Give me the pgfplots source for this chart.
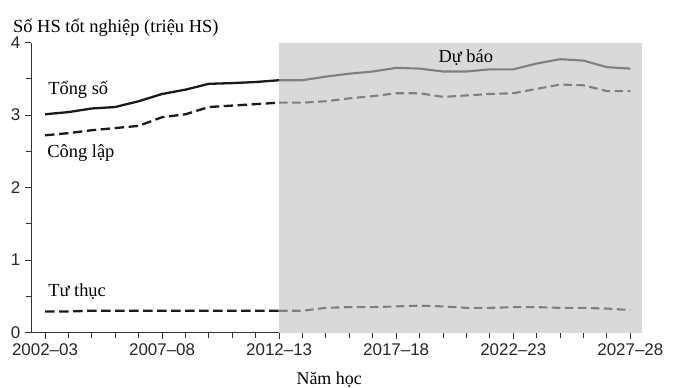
\documentclass[border=0pt]{standalone}
\usepackage{fontspec}
\setmainfont{Liberation Serif}
\newfontfamily\tickfont[Ligatures=TeX]{Liberation Sans}
\usepackage{pgfplots}
\pgfplotsset{compat=1.18}
\definecolor{shade}{HTML}{D9D9D9}
\definecolor{fccol}{HTML}{7F7F7F}
\definecolor{histcol}{HTML}{1A1A1A}
\begin{document}
\begin{tikzpicture}
\begin{axis}[name=ax,
  scale only axis, width=611bp, height=290bp,
  xmin=-0.6, xmax=25.5, ymin=0, ymax=4,
  axis x line=bottom, axis y line=left,
  axis line style={-, line width=1bp, draw=black!80},
  tick align=outside,
  tick style={line width=1bp, draw=black!80},
  major tick length=6bp, minor tick length=5bp,
  xtick={0,5,10,15,20,25},
  xticklabels={2002–03,2007–08,2012–13,2017–18,2022–23,2027–28},
  minor xtick={0,...,25},
  ytick={0,1,2,3,4}, minor ytick={0.5,1.5,2.5,3.5},
  /pgf/number format/assume math mode=true,
  ticklabel style={font=\tickfont\fontsize{17}{18}\selectfont, text=black!85, inner sep=1bp},
  xticklabel style={yshift=-3.5bp},
  yticklabel style={xshift=-3.5bp},
  clip=false,
]
\addplot[fill=shade, draw=none] coordinates {(10,4) (25.5,4)} \closedcycle;
% historic
\addplot[color=histcol, line width=2.3bp] coordinates {
(0,3.01)(1,3.04)(2,3.09)(3,3.11)(4,3.19)(5,3.29)(6,3.35)(7,3.43)(8,3.44)(9,3.455)(10,3.48)};
\addplot[color=histcol, line width=2.3bp, dash pattern=on 9.5bp off 4.5bp] coordinates {
(0,2.72)(1,2.75)(2,2.79)(3,2.82)(4,2.85)(5,2.97)(6,3.01)(7,3.11)(8,3.13)(9,3.15)(10,3.17)};
\addplot[color=histcol, line width=2.3bp, dash pattern=on 9.5bp off 4.5bp] coordinates {
(0,0.29)(1,0.29)(2,0.30)(3,0.30)(4,0.30)(5,0.30)(6,0.30)(7,0.30)(8,0.30)(9,0.30)(10,0.30)};
% forecast
\addplot[color=fccol, line width=2.1bp] coordinates {
(10,3.48)(11,3.48)(12,3.53)(13,3.57)(14,3.60)(15,3.65)(16,3.64)(17,3.60)(18,3.60)(19,3.63)(20,3.63)(21,3.71)(22,3.77)(23,3.75)(24,3.66)(25,3.64)};
\addplot[color=fccol, line width=2.1bp, dash pattern=on 8.5bp off 4.5bp] coordinates {
(10,3.17)(11,3.17)(12,3.19)(13,3.23)(14,3.26)(15,3.30)(16,3.30)(17,3.25)(18,3.27)(19,3.29)(20,3.30)(21,3.36)(22,3.42)(23,3.41)(24,3.33)(25,3.33)};
\addplot[color=fccol, line width=2.1bp, dash pattern=on 8.5bp off 4.5bp] coordinates {
(10,0.30)(11,0.30)(12,0.34)(13,0.35)(14,0.35)(15,0.36)(16,0.37)(17,0.36)(18,0.34)(19,0.34)(20,0.35)(21,0.35)(22,0.34)(23,0.34)(24,0.33)(25,0.31)};
\node[anchor=base west, font=\fontsize{18.5}{20}\selectfont, inner sep=0pt] at (axis cs:0.13,3.28) {Tổng số};
\node[anchor=base west, font=\fontsize{18.5}{20}\selectfont, inner sep=0pt] at (axis cs:0.09,2.41) {Công lập};
\node[anchor=base west, font=\fontsize{18.5}{20}\selectfont, inner sep=0pt] at (axis cs:0.13,0.49) {Tư thục};
\node[anchor=base west, font=\fontsize{18.5}{20}\selectfont, inner sep=0pt] at (axis cs:16.8,3.73) {Dự báo};
\node[anchor=base west, font=\fontsize{18.5}{20}\selectfont, inner sep=0pt] at (rel axis cs:-0.0295,1.036) {Số HS tốt nghiệp (triệu HS)};
\node[anchor=base, font=\fontsize{18}{20}\selectfont, inner sep=0pt] at (rel axis cs:0.488,-0.181) {Năm học};
\end{axis}
\pgfresetboundingbox
\path ([shift={(-31bp,-55.5bp)}]ax.south west) rectangle ([shift={(35bp,42.5bp)}]ax.north east);
\end{tikzpicture}
\end{document}
